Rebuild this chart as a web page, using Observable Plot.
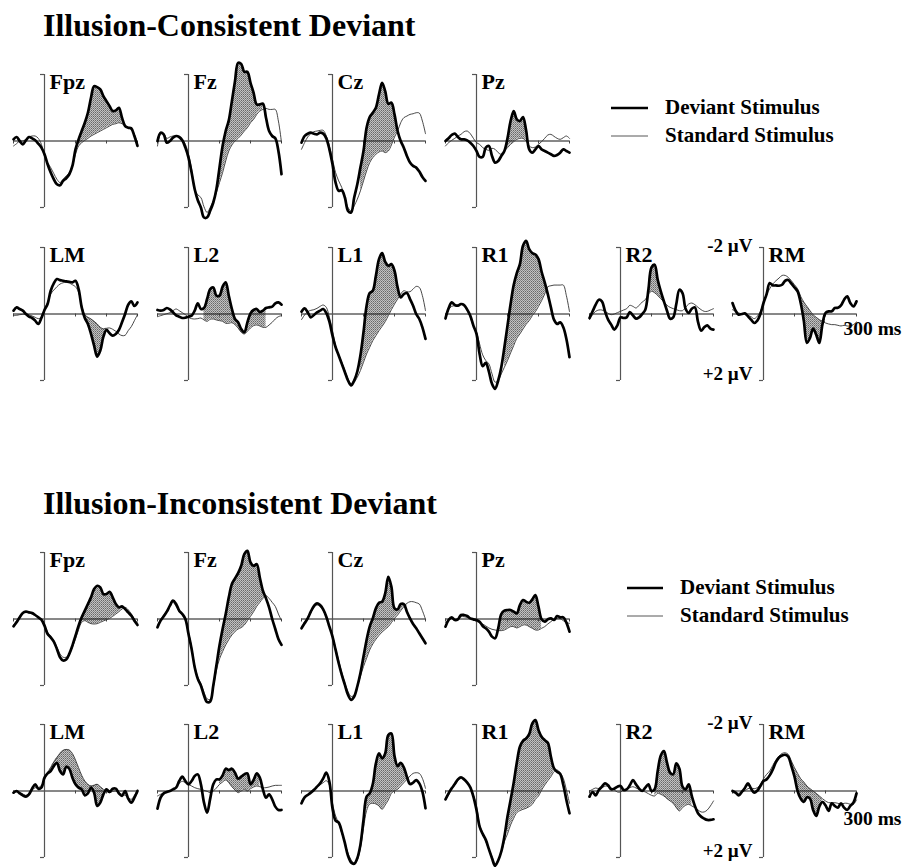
<!DOCTYPE html>
<html><head><meta charset="utf-8">
<script src="https://cdn.jsdelivr.net/npm/d3@7"></script>
<script src="https://cdn.jsdelivr.net/npm/@observablehq/plot@0.6"></script>
<style>
html,body{margin:0;padding:0;background:#fff;}
#fig{position:relative;width:906px;height:867px;overflow:hidden;background:#fff;}
.panel{position:absolute;}
</style></head><body>
<svg width="0" height="0" style="position:absolute;left:0;top:0"><defs>
<pattern id="halftone" width="2" height="2" patternUnits="userSpaceOnUse">
<rect width="2" height="2" fill="#c2c2c2"/><rect width="1" height="1" fill="#686868"/><rect x="1" y="1" width="1" height="1" fill="#888888"/>
</pattern></defs></svg>
<div id="fig"></div>
<script>
// ---------- data ----------
const times = [-100,-90,-80,-70,-60,-50,-40,-30,-20,-10,0,10,20,30,40,50,60,70,80,90,100,110,120,130,140,150,160,170,180,190,200,210,220,230,240,250,260,270,280,290,300];
const sectionTitles = ["Illusion-Consistent Deviant", "Illusion-Inconsistent Deviant"];
const channelsTop = ["Fpz", "Fz", "Cz", "Pz"];
const channelsBottom = ["LM", "L2", "L1", "R1", "R2", "RM"];
const seriesNames = ["Deviant Stimulus", "Standard Stimulus"];
const yTickValues = [-2, 2];
const yTickLabels = ["-2 \u00b5V", "+2 \u00b5V"];
const xTickValues = [-100, 100, 200, 300];
const xEndLabel = "300 ms";

// Illusion-consistent deviant (µV, negative up)
const cDevFpz = [-0.05,-0.12,0,0.1,-0.02,-0.12,-0.08,-0.02,0.08,0.2, 0.4,0.7,0.95,1.15,1.3,1.33,1.2,1.12,1.0,0.75, 0.25,-0.05,-0.3,-0.55,-0.85,-1.3,-1.65,-1.62,-1.55,-1.35, -1.2,-1.05,-0.9,-0.92,-1.0,-0.7,-0.45,-0.4,-0.38,-0.15, 0.15];
const cStdFpz = [0.15,0.08,0,0,-0.05,-0.12,-0.15,-0.15,-0.08,0.1, 0.45,0.65,0.8,0.98,1.15,1.25,1.15,1.05,0.95,0.75, 0.4,0.15,0.05,-0.02,-0.08,-0.15,-0.2,-0.25,-0.3,-0.35, -0.4,-0.45,-0.5,-0.52,-0.55,-0.52,-0.48,-0.4,-0.35,-0.2, 0.1];
const cDevFz = [0,-0.25,-0.2,0.05,0,-0.1,-0.15,-0.12,-0.02,0.2, 0.5,0.95,1.45,1.78,2.0,2.3,2.3,2.1,1.85,1.45, 0.8,0.15,-0.3,-0.62,-1.2,-1.8,-2.35,-2.32,-2.08,-2.08, -1.75,-1.45,-1.1,-1.1,-1.12,-0.7,-0.3,-0.15,-0.08,0.3, 1.0];
const cStdFz = [0.15,-0.2,-0.22,-0.08,-0.12,-0.15,-0.15,-0.12,-0.05,0.1, 0.4,0.85,1.45,1.62,1.7,1.98,2.15,2.0,1.8,1.55, 1.25,0.95,0.6,0.3,0.12,0,-0.08,-0.18,-0.3,-0.4, -0.55,-0.65,-0.8,-0.9,-0.95,-0.98,-0.95,-0.95,-0.95,-0.6, 0.05];
const cDevCz = [0.05,-0.15,-0.22,-0.25,-0.22,-0.2,-0.25,-0.22,-0.08,0.25, 0.7,1.25,1.5,1.48,1.7,2.1,2.15,1.7,1.3,0.8, 0.3,-0.4,-0.72,-0.85,-1.0,-1.4,-1.75,-1.5,-1.12,-1.15, -0.8,-0.3,0,0.2,0.45,0.65,0.75,0.8,0.92,1.08, 1.2];
const cStdCz = [0.25,0.05,-0.12,-0.22,-0.28,-0.3,-0.32,-0.32,-0.15,0.15, 0.55,0.95,1.2,1.4,1.7,2.0,2.1,1.95,1.75,1.5, 1.2,0.9,0.65,0.5,0.4,0.33,0.3,0.35,0.3,0.12, -0.12,-0.3,-0.55,-0.7,-0.75,-0.8,-0.82,-0.85,-0.84,-0.6, -0.22];
const cDevPz = [0,-0.08,-0.18,-0.22,-0.12,-0.05,-0.05,-0.02,0.05,0.15, 0.3,0.48,0.48,0.2,0.15,0.45,0.65,0.6,0.45,0.3, -0.08,-0.6,-0.9,-0.65,-0.6,-0.72,-0.32,0.25,0.35,0.25, 0.15,0.25,0.3,0.35,0.4,0.45,0.42,0.35,0.25,0.3, 0.35];
const cStdPz = [0.15,0.05,-0.02,-0.08,-0.15,-0.2,-0.28,-0.3,-0.22,-0.08, 0.05,0.1,0.2,0.25,0.28,0.22,0.25,0.35,0.4,0.3, 0.2,0.1,0.02,-0.05,-0.08,-0.08,0,0.15,0.2,0.18, 0.1,0.02,-0.08,-0.18,-0.2,-0.14,-0.08,-0.05,-0.1,-0.15, -0.08];
const cDevLM = [-0.1,-0.2,-0.15,-0.1,0,0.08,0.12,0.2,0.3,0.12, -0.12,-0.3,-0.7,-0.92,-1.05,-1.02,-1.0,-0.98,-0.97,-0.95, -1.0,-0.75,-0.2,0.12,0.3,0.6,0.95,1.28,1.1,0.68, 0.48,0.58,0.65,0.6,0.48,0.25,0,-0.28,-0.38,-0.24, -0.35];
const cStdLM = [0.05,0.04,0.02,0.01,0,0.02,0.06,0.1,0.14,0.1, -0.15,-0.35,-0.6,-0.72,-0.82,-0.9,-0.94,-0.95,-0.93,-0.88, -0.82,-0.65,-0.25,0.02,0.1,0.15,0.22,0.3,0.4,0.45, 0.43,0.42,0.46,0.52,0.6,0.65,0.64,0.5,0.38,0.2, 0.02];
const cDevL2 = [-0.12,-0.1,-0.12,-0.18,-0.14,-0.05,0.04,0.08,0.12,0.11, 0.08,0.05,-0.1,-0.32,-0.15,-0.18,-0.45,-0.75,-0.8,-0.55, -0.55,-0.82,-0.95,-0.55,-0.15,0.15,0.25,0.45,0.55,0.25, -0.02,-0.12,-0.15,-0.06,-0.1,-0.18,-0.2,-0.22,-0.32,-0.35, -0.28];
const cStdL2 = [0.08,0.05,0.02,-0.01,-0.04,-0.1,-0.15,-0.1,-0.04,0.02, 0.1,0.14,0.15,0.14,0.12,0.18,0.22,0.16,0.15,0.18, 0.2,0.22,0.28,0.28,0.26,0.32,0.42,0.55,0.6,0.52, 0.42,0.35,0.33,0.36,0.4,0.4,0.33,0.25,0.15,0.08, 0.05];
const cDevL1 = [-0.07,-0.17,-0.05,0.1,0.03,-0.05,-0.1,-0.15,-0.03,0.23, 0.65,1.0,1.25,1.5,1.75,2.0,2.15,2.0,1.73,1.25, 0.55,-0.25,-0.63,-0.7,-1.15,-1.65,-1.83,-1.57,-1.45,-1.5, -1.3,-0.8,-0.5,-0.6,-0.63,-0.45,-0.25,0,0.15,0.4, 0.75];
const cStdL1 = [0.17,0.03,-0.07,-0.11,-0.13,-0.17,-0.23,-0.27,-0.2,0.1, 0.5,0.95,1.23,1.45,1.7,1.95,2.1,2.05,1.9,1.7, 1.45,1.2,1.0,0.8,0.65,0.5,0.37,0.23,0.05,-0.13, -0.3,-0.45,-0.6,-0.7,-0.67,-0.67,-0.75,-0.83,-0.8,-0.55, -0.1];
const cDevR1 = [0.13,-0.17,-0.35,-0.27,-0.25,-0.3,-0.27,-0.13,0.05,0.35, 0.6,1.2,1.57,1.47,1.73,2.1,2.25,2.0,1.6,1.0, 0.35,-0.3,-0.87,-1.23,-1.5,-2.05,-2.2,-1.95,-1.83,-1.79, -1.65,-1.27,-0.95,-0.6,-0.2,0.17,0.3,0.25,0.4,0.75, 1.3];
const cStdR1 = [0.17,-0.13,-0.23,-0.25,-0.27,-0.29,-0.23,-0.1,0.1,0.37, 0.55,0.9,1.23,1.4,1.5,1.8,2.05,2.0,1.8,1.6, 1.4,1.17,0.95,0.73,0.6,0.45,0.31,0.2,0.05,-0.07, -0.23,-0.4,-0.6,-0.82,-0.85,-0.87,-0.87,-0.87,-0.87,-0.55, -0.07];
const cDevR2 = [0.12,-0.08,-0.28,-0.43,-0.38,-0.08,0.17,0.32,0.47,0.34, 0.1,0.12,0.1,-0.06,0.04,0.14,0.1,0,-0.13,-0.73, -1.4,-1.48,-1.03,-0.68,-0.38,-0.1,0.14,0.1,-0.3,-0.73, -0.63,-0.16,-0.03,-0.16,-0.2,0.24,0.5,0.4,0.34,0.44, 0.47];
const cStdR2 = [0.17,0.02,-0.08,-0.12,-0.12,-0.08,-0.02,0.02,0,-0.04, -0.08,-0.12,-0.16,-0.26,-0.23,-0.18,-0.26,-0.36,-0.43,-0.6, -0.68,-0.64,-0.56,-0.46,-0.36,-0.26,-0.2,-0.16,-0.13,-0.1, -0.1,-0.2,-0.3,-0.33,-0.28,-0.2,-0.13,-0.08,-0.08,-0.12, -0.16];
const cDevRM = [-0.33,-0.1,0.02,0,-0.02,0.07,0.17,0.27,0.2,0, -0.33,-0.6,-0.93,-0.86,-0.86,-0.85,-0.88,-1.0,-1.02,-0.91, -0.8,-0.68,-0.33,0.2,0.87,0.72,0.44,0.62,0.87,0.32, -0.03,-0.08,-0.08,-0.18,-0.19,-0.26,-0.43,-0.53,-0.33,-0.23, -0.38];
const cStdRM = [-0.13,-0.08,-0.03,-0.01,0,0.04,0.08,0.14,0.07,-0.08, -0.33,-0.58,-0.76,-0.9,-1.0,-1.08,-1.16,-1.16,-1.1,-1.0, -0.88,-0.76,-0.53,-0.36,-0.23,-0.1,0.02,0.1,0.17,0.22, 0.27,0.3,0.32,0.32,0.34,0.36,0.34,0.36,0.36,0.32, 0.24];

// Illusion-inconsistent deviant
const iDevFpz = [0.22,0.1,-0.05,-0.18,-0.22,-0.2,-0.18,-0.12,-0.05,0.02, 0.2,0.45,0.55,0.68,0.9,1.15,1.25,1.22,1.05,0.8, 0.5,0.2,-0.05,-0.25,-0.45,-0.65,-0.9,-1.0,-0.95,-0.75, -0.75,-0.82,-0.65,-0.45,-0.35,-0.38,-0.3,-0.2,-0.1,0.05, 0.18];
const iStdFpz = [0.18,0.05,-0.08,-0.18,-0.2,-0.18,-0.15,-0.1,-0.05,0.02, 0.18,0.4,0.52,0.65,0.85,1.05,1.15,1.15,1.05,0.85, 0.6,0.32,0.1,0.05,0.1,0.14,0.15,0.14,0.1,0.06, 0.02,-0.02,-0.08,-0.15,-0.22,-0.3,-0.35,-0.28,-0.15,0, 0.12];
const iDevFz = [0.25,0.05,-0.08,-0.22,-0.4,-0.55,-0.45,-0.25,-0.15,0, 0.45,0.9,1.45,1.8,2.0,2.3,2.5,2.48,2.0,1.4, 0.8,0.3,-0.15,-0.65,-1.05,-1.22,-1.38,-1.6,-1.95,-2.05, -1.7,-1.6,-1.65,-1.25,-0.85,-0.62,-0.35,0,0.3,0.6, 0.78];
const iStdFz = [0.18,0.02,-0.12,-0.25,-0.4,-0.5,-0.38,-0.22,-0.12,0.05, 0.4,0.85,1.4,1.75,1.95,2.2,2.4,2.42,2.05,1.55, 1.2,0.98,0.78,0.62,0.48,0.38,0.3,0.26,0.18,0.05, -0.08,-0.22,-0.38,-0.5,-0.62,-0.7,-0.62,-0.5,-0.38,-0.15, 0.05];
const iDevCz = [0.28,0.13,-0.02,-0.22,-0.39,-0.47,-0.42,-0.29,-0.07,0.23, 0.53,0.93,1.33,1.68,1.98,2.28,2.43,2.33,2.03,1.63, 1.13,0.63,0.23,-0.02,-0.32,-0.49,-0.52,-0.77,-1.27,-0.97, -0.32,-0.29,-0.45,-0.45,-0.22,-0.02,0.15,0.28,0.43,0.58, 0.73];
const iStdCz = [0.23,0.08,-0.05,-0.19,-0.35,-0.42,-0.37,-0.25,-0.05,0.21, 0.51,0.88,1.25,1.61,1.93,2.18,2.33,2.28,2.03,1.73, 1.43,1.18,0.93,0.75,0.61,0.49,0.39,0.31,0.23,0.11, -0.02,-0.12,-0.25,-0.37,-0.47,-0.52,-0.52,-0.49,-0.45,-0.25, 0.01];
const iDevPz = [0.23,0.03,-0.05,0.03,0.01,-0.12,-0.12,-0.09,-0.02,0.01, 0.03,0.08,0.21,0.28,0.38,0.53,0.58,0.28,-0.15,-0.25, -0.27,-0.27,-0.22,-0.17,-0.42,-0.57,-0.52,-0.49,-0.59,-0.72, -0.37,0.01,0.08,0.01,-0.02,0.03,-0.09,-0.05,-0.05,0.11, 0.38];
const iStdPz = [0.11,0.01,-0.01,0.01,-0.02,-0.07,-0.07,-0.05,-0.02,0.03, 0.07,0.11,0.15,0.21,0.27,0.31,0.33,0.35,0.35,0.33, 0.28,0.23,0.23,0.27,0.23,0.18,0.18,0.23,0.28,0.33, 0.33,0.28,0.23,0.15,0.08,0.01,-0.02,-0.01,0.05,0.11, 0.13];
const iDevLM = [0.05,0,0.07,0.13,0.17,0.1,-0.07,-0.2,-0.07,-0.1, -0.4,-0.53,-0.6,-0.75,-0.85,-0.6,-0.5,-0.73,-0.67,-0.4, -0.2,-0.1,-0.05,0.13,0.07,-0.1,0.05,0.45,0.35,0.1, -0.05,0.03,-0.07,-0.07,0.07,0.15,0,0.23,0.35,0.2, 0];
const iStdLM = [0.07,0.03,0.05,0.09,0.13,0.07,-0.03,-0.1,-0.1,-0.17, -0.35,-0.55,-0.7,-0.87,-1.0,-1.13,-1.22,-1.25,-1.23,-1.13, -0.93,-0.7,-0.47,-0.3,-0.2,-0.15,-0.17,-0.2,-0.13,-0.05, 0.01,0.05,0.01,0,0.05,0.1,0.13,0.2,0.25,0.13, -0.03];
const iDevL2 = [0.53,0.2,0.07,0.03,0,-0.05,-0.1,-0.3,-0.43,-0.3, -0.2,-0.3,-0.45,-0.5,-0.2,0.35,0.65,0.23,-0.2,-0.35, -0.35,-0.47,-0.67,-0.63,-0.67,-0.55,-0.37,-0.43,-0.5,-0.53, -0.2,-0.33,-0.53,-0.4,-0.05,0.2,0.1,0.25,0.47,0.57, 0.57];
const iStdL2 = [0.15,0.1,0.06,0.04,0.01,-0.03,-0.13,-0.23,-0.29,-0.25, -0.2,-0.15,-0.1,-0.07,-0.05,-0.02,0.01,0.05,0,-0.09, -0.2,-0.27,-0.33,-0.25,-0.13,-0.03,0.05,0,-0.05,0, -0.07,-0.12,-0.15,-0.13,-0.1,-0.1,-0.12,-0.15,-0.17,-0.17, -0.17];
const iDevL1 = [0.37,0.19,0.12,0.05,-0.03,-0.13,-0.23,-0.38,-0.55,-0.28, 0.52,0.89,0.95,1.22,1.57,1.95,2.15,2.19,2.02,1.62, 0.87,0.17,0.07,-0.21,-0.83,-1.13,-0.98,-1.13,-1.68,-1.73, -1.05,-0.75,-0.85,-0.71,-0.43,-0.21,-0.25,-0.33,-0.23,0.02, 0.52];
const iStdL1 = [0.29,0.19,0.09,0.01,-0.06,-0.13,-0.19,-0.25,-0.31,-0.18, 0.37,0.75,0.97,1.27,1.57,1.87,2.07,2.17,2.07,1.72, 1.12,0.59,0.39,0.37,0.39,0.45,0.55,0.42,0.27,0.07, -0.01,-0.05,-0.15,-0.25,-0.35,-0.45,-0.53,-0.55,-0.53,-0.38, -0.08];
const iDevR1 = [0.25,0.07,-0.08,-0.21,-0.35,-0.41,-0.35,-0.25,-0.11,0.17, 0.57,1.07,1.29,1.47,1.75,2.02,2.25,2.09,1.82,1.37, 0.77,0.27,-0.25,-0.85,-1.33,-1.51,-1.58,-1.71,-2.03,-2.13, -1.83,-1.63,-1.53,-1.45,-1.03,-0.68,-0.58,-0.51,-0.18,0.27, 0.67];
const iStdR1 = [0.27,0.12,-0.05,-0.18,-0.31,-0.41,-0.35,-0.25,-0.13,0.12, 0.45,1.02,1.27,1.52,1.75,1.97,2.19,2.07,1.85,1.52, 1.29,1.02,0.82,0.65,0.59,0.55,0.52,0.47,0.4,0.25, 0.15,-0.03,-0.18,-0.31,-0.43,-0.58,-0.63,-0.55,-0.38,-0.03, 0.37];
const iDevR2 = [0.17,0.03,0.13,-0.03,-0.13,-0.23,-0.17,-0.05,-0.07,-0.13, -0.15,-0.03,-0.05,-0.17,-0.33,-0.2,-0.07,0,-0.1,-0.2, 0,-0.05,-0.6,-1.07,-1.2,-0.85,-0.55,-0.5,-0.83,-0.67, -0.13,-0.05,-0.2,0.15,0.45,0.67,0.77,0.83,0.87,0.87, 0.85];
const iStdR2 = [0,-0.05,-0.09,-0.07,-0.09,-0.15,-0.13,-0.09,-0.03,0.03, 0.03,-0.03,-0.07,-0.1,-0.13,-0.09,-0.05,-0.01,0.03,0.08, 0.13,0.15,0.07,0.1,0.15,0.23,0.3,0.37,0.5,0.6, 0.5,0.43,0.4,0.45,0.5,0.57,0.63,0.63,0.57,0.45, 0.3];
const iDevRM = [0,0.05,0.13,0.03,-0.09,-0.23,-0.07,0.05,-0.01,-0.15, -0.3,-0.35,-0.47,-0.65,-0.87,-1.01,-1.07,-1.09,-1.03,-0.75, -0.43,0,0.23,0.33,0.19,0.23,0.57,0.75,0.47,0.33, 0.43,0.6,0.37,0.45,0.5,0.37,0.5,0.57,0.45,0.35, 0.07];
const iStdRM = [0.05,0.06,0.07,0.03,-0.01,-0.07,-0.09,-0.07,-0.1,-0.2, -0.37,-0.5,-0.6,-0.77,-0.93,-1.05,-1.13,-1.15,-1.1,-0.9, -0.7,-0.53,-0.37,-0.27,-0.15,-0.07,0,0.07,0.15,0.23, 0.3,0.35,0.35,0.35,0.37,0.4,0.37,0.37,0.4,0.4, 0.27];

// windows (ms) of the shaded deviant-standard difference
const cShade = {Fpz:[100,250], Fz:[90,240], Cz:[90,210], Pz:[80,160], LM:[120,200], L2:[50,250], L1:[90,220], R1:[90,230], R2:[90,150], RM:[120,200]};
const iShade = {Fpz:[110,250], Fz:[100,250], Cz:[100,240], Pz:[70,210], LM:[10,190], L2:[100,230], L1:[110,240], R1:[100,250], R2:[110,230], RM:[80,190]};

// ---------- layout ----------
const FONT = '"Liberation Serif", "Times New Roman", Times, serif';
const PX_MS = 0.31, PX_UV = 33.25, M = 24;
const colX = [44, 188, 332, 476, 620, 763];
const layout = [
  {titleY: 36, rowBase: [140, 313], legLine: [611, 648], legText: 665, legY: [108, 136], msDy: 21},
  {titleY: 514, rowBase: [618, 790], legLine: [627, 663], legText: 680, legY: [588, 616], msDy: 34}
];
const sets = [
  {dev: {Fpz:cDevFpz,Fz:cDevFz,Cz:cDevCz,Pz:cDevPz,LM:cDevLM,L2:cDevL2,L1:cDevL1,R1:cDevR1,R2:cDevR2,RM:cDevRM},
   std: {Fpz:cStdFpz,Fz:cStdFz,Cz:cStdCz,Pz:cStdPz,LM:cStdLM,L2:cStdL2,L1:cStdL1,R1:cStdR1,R2:cStdR2,RM:cStdRM}, shade: cShade},
  {dev: {Fpz:iDevFpz,Fz:iDevFz,Cz:iDevCz,Pz:iDevPz,LM:iDevLM,L2:iDevL2,L1:iDevL1,R1:iDevR1,R2:iDevR2,RM:iDevRM},
   std: {Fpz:iStdFpz,Fz:iStdFz,Cz:iStdCz,Pz:iStdPz,LM:iStdLM,L2:iStdL2,L1:iStdL1,R1:iStdR1,R2:iStdR2,RM:iStdRM}, shade: iShade}
];

const fig = document.getElementById("fig");
const over = d3.select(fig).append("svg")
  .attr("width", 906).attr("height", 867)
  .style("position", "absolute").style("left", "0px").style("top", "0px");

const curve = "catmull-rom";
const W = 400 * PX_MS + 2 * M, H = 4 * PX_UV + 2 * M;

function panel(sec, row, col, ch) {
  const L = layout[sec], S = sets[sec];
  const dev = S.dev[ch], std = S.std[ch], sh = S.shade[ch];
  const rows = times.map((t, i) => ({t, dev: dev[i], std: std[i]}));
  const band = rows.filter(d => d.t >= sh[0] && d.t <= sh[1]);
  const marks = [
    Plot.areaY(band, {x: "t", y1: "std", y2: "dev", fill: "url(#halftone)", curve}),
    Plot.ruleY([0], {stroke: "#111", strokeWidth: 1}),
    Plot.ruleX(xTickValues, {y1: 0, y2: 0.09, stroke: "#444", strokeWidth: 1}),
    Plot.ruleX([0], {y1: yTickValues[0], y2: yTickValues[1], stroke: "#555", strokeWidth: 1.2}),
    Plot.ruleY(yTickValues, {x1: -13, x2: 0, stroke: "#555", strokeWidth: 1.2}),
    Plot.line(rows, {x: "t", y: "std", stroke: "#333", strokeWidth: 0.9, curve}),
    Plot.line(rows, {x: "t", y: "dev", stroke: "#000", strokeWidth: 2.7, curve}),
    Plot.text([ch], {text: d => d, x: 0, y: yTickValues[0], dx: 5, dy: -1, textAnchor: "start", lineAnchor: "top",
      fontSize: 22, fontWeight: "bold", fontFamily: FONT, fill: "#000"})
  ];
  if (ch === "RM") {
    marks.push(
      Plot.text([yTickLabels[0]], {text: d => d, x: 0, y: yTickValues[0], dx: -11, dy: 4, textAnchor: "end", lineAnchor: "bottom",
        fontSize: 19, fontWeight: "bold", fontFamily: FONT, fill: "#000"}),
      Plot.text([yTickLabels[1]], {text: d => d, x: 0, y: yTickValues[1], dx: -11, dy: -1, textAnchor: "end", lineAnchor: "bottom",
        fontSize: 19, fontWeight: "bold", fontFamily: FONT, fill: "#000"}),
      Plot.text([xEndLabel], {text: d => d, x: xTickValues[3], y: 0, dx: -13, dy: L.msDy, textAnchor: "start", lineAnchor: "bottom",
        fontSize: 19.5, fontWeight: "bold", fontFamily: FONT, fill: "#000"})
    );
  }
  const svg = Plot.plot({
    width: W, height: H, marginLeft: M, marginRight: M, marginTop: M, marginBottom: M,
    x: {domain: [-100, 300], axis: null},
    y: {domain: [-2, 2], reverse: true, axis: null},
    style: {overflow: "visible", background: "transparent"},
    marks
  });
  const wrap = document.createElement("div");
  wrap.className = "panel";
  wrap.style.left = (colX[col] - 100 * PX_MS - M) + "px";
  wrap.style.top = (L.rowBase[row] - 2 * PX_UV - M) + "px";
  wrap.style.width = W + "px";
  wrap.style.height = H + "px";
  wrap.appendChild(svg);
  fig.appendChild(wrap);
}

layout.forEach((L, sec) => {
  over.append("text").attr("x", 43).attr("y", L.titleY)
    .attr("font-family", FONT).attr("font-weight", "bold").attr("font-size", 32)
    .text(sectionTitles[sec]);
  seriesNames.forEach((name, k) => {
    over.append("line").attr("x1", L.legLine[0]).attr("x2", L.legLine[1])
      .attr("y1", L.legY[k]).attr("y2", L.legY[k])
      .attr("stroke", k === 0 ? "#000" : "#444").attr("stroke-width", k === 0 ? 2.7 : 0.9);
    over.append("text").attr("x", L.legText).attr("y", L.legY[k] + 6)
      .attr("font-family", FONT).attr("font-weight", "bold").attr("font-size", 21)
      .text(name);
  });
  channelsTop.forEach((ch, c) => panel(sec, 0, c, ch));
  channelsBottom.forEach((ch, c) => panel(sec, 1, c, ch));
});
</script>
</body></html>
